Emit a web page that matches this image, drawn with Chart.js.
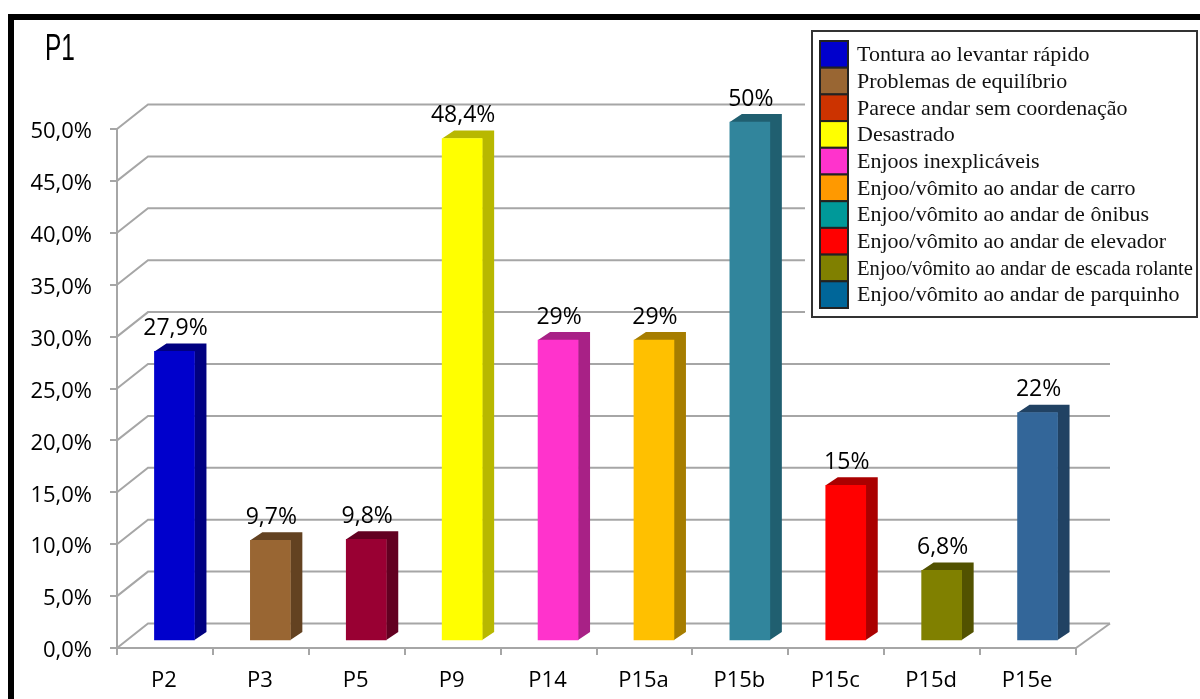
<!DOCTYPE html>
<html>
<head>
<meta charset="utf-8">
<title>P1</title>
<script src="https://cdn.jsdelivr.net/npm/chart.js@4"></script>
<style>
html, body { margin: 0; padding: 0; background: #fff; }
canvas { display: block; }
</style>
</head>
<body>
<canvas id="p1Chart" width="1200" height="699"></canvas>
<script>
const categories = ['P2', 'P3', 'P5', 'P9', 'P14', 'P15a', 'P15b', 'P15c', 'P15d', 'P15e'];
const percentages = [27.9, 9.7, 9.8, 48.4, 29, 29, 50, 15, 6.8, 22];
const barColors = ['#0000CC', '#996633', '#990033', '#FFFF00', '#FF33CC', '#FFC000', '#31859C', '#FF0000', '#808000', '#336699'];
const sideColors = ['#000080', '#634221', '#620021', '#B8B800', '#A82186', '#A67D00', '#205F70', '#AA0000', '#525200', '#214263'];
const legendLabels = [
    'Tontura ao levantar rápido',
    'Problemas de equilíbrio',
    'Parece andar sem coordenação',
    'Desastrado',
    'Enjoos inexplicáveis',
    'Enjoo/vômito ao andar de carro',
    'Enjoo/vômito ao andar de ônibus',
    'Enjoo/vômito ao andar de elevador',
    'Enjoo/vômito ao andar de escada rolante',
    'Enjoo/vômito ao andar de parquinho'
];
const legendColors = ['#0000CC', '#996633', '#CC3300', '#FFFF00', '#FF33CC', '#FF9900', '#009999', '#FF0000', '#808000', '#006699'];

const SANS = '"Open Sans", sans-serif';
const GRID = '#A6A6A6';

// fake 3D: wall depth, and how far the bars sit in front of the axis
const WALL_DX = 31, WALL_DY = 24.5;
const BAR_DX = 9.5, BAR_DY = 7;
const SIDE_DX = 12, SIDE_DY = 8;

const fmt = v => String(v).replace('.', ',') + '%';

const wallPlugin = {
    id: 'wall',
    beforeDatasetsDraw(chart) {
        const { ctx, scales: { x, y } } = chart;
        ctx.save();
        ctx.strokeStyle = GRID;
        ctx.lineWidth = 2;
        y.ticks.forEach(t => {
            const py = y.getPixelForValue(t.value);
            ctx.beginPath();
            ctx.moveTo(x.left, py);
            ctx.lineTo(x.left + WALL_DX, py - WALL_DY);
            ctx.lineTo(x.right + WALL_DX + 3, py - WALL_DY);
            ctx.stroke();
        });
        // right edge of the floor
        ctx.beginPath();
        ctx.moveTo(x.right, y.bottom);
        ctx.lineTo(x.right + WALL_DX + 3, y.bottom - WALL_DY);
        ctx.stroke();
        ctx.restore();
    }
};

// moves the bars off the axis and adds their side and top faces
const barDepthPlugin = {
    id: 'barDepth',
    beforeDatasetsDraw(chart) {
        const ctx = chart.ctx;
        ctx.save();
        ctx.translate(BAR_DX, -BAR_DY);
        chart.getDatasetMeta(0).data.forEach((bar, i) => {
            const l = bar.x - bar.width / 2, r = bar.x + bar.width / 2;
            ctx.fillStyle = sideColors[i];
            ctx.beginPath();
            ctx.moveTo(l, bar.y);
            ctx.lineTo(l + SIDE_DX, bar.y - SIDE_DY);
            ctx.lineTo(r + SIDE_DX, bar.y - SIDE_DY);
            ctx.lineTo(r + SIDE_DX, bar.base - SIDE_DY);
            ctx.lineTo(r, bar.base);
            ctx.lineTo(r, bar.y);
            ctx.closePath();
            ctx.fill();
        });
    },
    afterDatasetsDraw(chart) {
        const ctx = chart.ctx;
        ctx.fillStyle = '#000';
        ctx.font = '23px ' + SANS;
        ctx.textAlign = 'center';
        ctx.textBaseline = 'middle';
        chart.getDatasetMeta(0).data.forEach((bar, i) => {
            ctx.fillText(fmt(percentages[i]), bar.x + 1, bar.y - 23);
        });
        ctx.restore();
    }
};

const decorPlugin = {
    id: 'decor',
    afterDraw(chart) {
        const ctx = chart.ctx;
        ctx.save();

        // white panel hides the wall lines behind the legend
        ctx.fillStyle = '#fff';
        ctx.fillRect(805, 20, 395, 302);

        // frame
        ctx.fillStyle = '#000';
        ctx.fillRect(8, 14, 1192, 6);
        ctx.fillRect(8, 14, 6, 685);

        // title
        ctx.save();
        ctx.translate(45, 59.5);
        ctx.scale(0.68, 1);
        ctx.font = '36px "Liberation Sans", sans-serif';
        ctx.textAlign = 'left';
        ctx.textBaseline = 'alphabetic';
        ctx.fillText('P1', 0, 0);
        ctx.restore();

        // legend
        ctx.strokeStyle = '#333';
        ctx.lineWidth = 2;
        ctx.strokeRect(812, 31, 385, 286);
        const rowH = 26.7;
        ctx.font = '22px "Liberation Serif", serif';
        ctx.textBaseline = 'middle';
        ctx.lineWidth = 2;
        legendLabels.forEach((label, i) => {
            const top = 41 + i * rowH;
            ctx.fillStyle = legendColors[i];
            ctx.fillRect(820, top, 28, rowH);
            ctx.strokeStyle = '#222';
            ctx.strokeRect(820, top, 28, rowH);
            ctx.fillStyle = '#111';
            ctx.fillText(label, 857, top + rowH / 2 + 1, 336);
        });
        ctx.restore();
    }
};

new Chart(document.getElementById('p1Chart'), {
    type: 'bar',
    data: {
        labels: categories,
        datasets: [{
            data: percentages,
            backgroundColor: barColors,
            barThickness: 40,
            clip: false
        }]
    },
    options: {
        responsive: false,
        animation: false,
        layout: { padding: { top: 129, right: 124, bottom: 0, left: 0 } },
        plugins: { legend: { display: false }, tooltip: { enabled: false } },
        scales: {
            x: {
                afterFit(axis) { axis.height = 51; },
                grid: { drawOnChartArea: false, color: GRID, lineWidth: 2, tickLength: 7 },
                border: { color: GRID, width: 2 },
                ticks: { color: '#000', font: { family: SANS, size: 22 }, padding: 13, maxRotation: 0, labelOffset: -1 }
            },
            y: {
                min: 0,
                max: 50,
                afterFit(axis) { axis.width = 117; },
                grid: { drawOnChartArea: false, color: GRID, lineWidth: 2, tickLength: 7 },
                border: { color: GRID, width: 2 },
                ticks: {
                    stepSize: 5,
                    color: '#000',
                    font: { family: SANS, size: 22 },
                    padding: 18,
                    labelOffset: 3,
                    callback: v => v.toFixed(1).replace('.', ',') + '%'
                }
            }
        }
    },
    plugins: [wallPlugin, barDepthPlugin, decorPlugin]
});
</script>
</body>
</html>
